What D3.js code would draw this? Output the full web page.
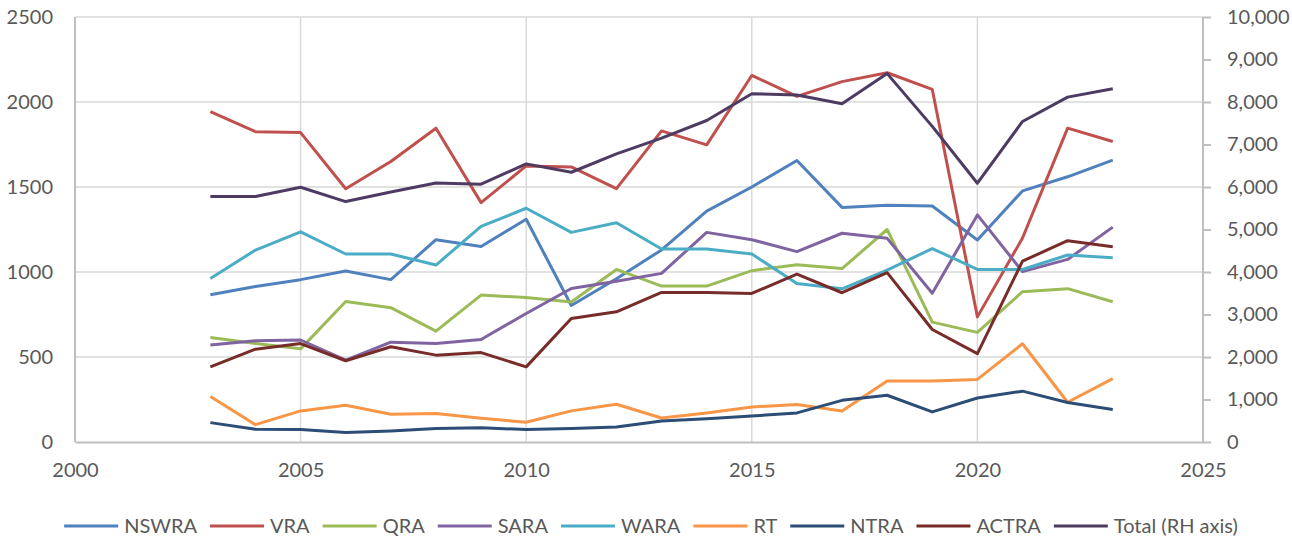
<!DOCTYPE html>
<html>
<head>
<meta charset="utf-8">
<script src="https://cdn.jsdelivr.net/npm/d3@7"></script>
<style>
  body { margin: 0; background: #fff; }
  svg { display: block; }
  text { font-family: Lato, "Liberation Sans", sans-serif; fill: #595959; }
</style>
</head>
<body>
<svg width="1292" height="539"></svg>
<script>
const years = d3.range(2003, 2024);

const nswra = [866, 915, 955, 1006, 955, 1190, 1150, 1310, 803, 960, 1130, 1358, 1500, 1656, 1380, 1392, 1388, 1188, 1477, 1560, 1658];
const vra   = [1944, 1825, 1820, 1490, 1650, 1846, 1408, 1624, 1618, 1490, 1830, 1748, 2156, 2033, 2120, 2172, 2074, 736, 1200, 1846, 1768];
const qra   = [615, 580, 548, 826, 790, 652, 864, 850, 823, 1015, 917, 917, 1008, 1042, 1020, 1250, 705, 645, 884, 902, 825];
const sara  = [570, 595, 600, 481, 587, 580, 603, 756, 903, 945, 992, 1233, 1190, 1120, 1228, 1198, 875, 1336, 1002, 1074, 1264];
const wara  = [962, 1129, 1236, 1106, 1106, 1041, 1268, 1375, 1233, 1290, 1135, 1135, 1106, 933, 901, 1011, 1138, 1015, 1015, 1100, 1084];
const rt    = [268, 102, 183, 216, 163, 167, 140, 116, 183, 222, 141, 171, 206, 220, 183, 359, 359, 368, 578, 234, 373];
const ntra  = [114, 75, 73, 56, 65, 79, 84, 73, 79, 88, 124, 137, 153, 171, 245, 275, 177, 259, 299, 232, 191];
const actra = [442, 546, 579, 478, 560, 511, 526, 442, 727, 766, 880, 880, 874, 988, 878, 996, 662, 520, 1064, 1184, 1149];
const total = [5775, 5775, 5994, 5657, 5884, 6096, 6065, 6544, 6347, 6779, 7149, 7565, 8194, 8163, 7959, 8668, 7427, 6089, 7542, 8115, 8311];

const seriesNames = ["NSWRA", "VRA", "QRA", "SARA", "WARA", "RT", "NTRA", "ACTRA", "Total (RH axis)"];
const seriesValues = [nswra, vra, qra, sara, wara, rt, ntra, actra, total];
const colors = ["#4F81BD", "#C0504D", "#9BBB59", "#8064A2", "#4BACC6", "#F79646", "#2C4D75", "#772C2A", "#4D3B62"];

const leftTicks = [0, 500, 1000, 1500, 2000, 2500];
const rightTicks = [0, 1000, 2000, 3000, 4000, 5000, 6000, 7000, 8000, 9000, 10000];
const xTicks = [2000, 2005, 2010, 2015, 2020, 2025];

const svg = d3.select("svg");
const plotL = 75, plotR = 1203, plotT = 17, plotB = 442;

const x = d3.scaleLinear().domain([2000, 2025]).range([plotL, plotR]);
const yL = d3.scaleLinear().domain([0, 2500]).range([plotB, plotT]);
const yR = d3.scaleLinear().domain([0, 10000]).range([plotB, plotT]);

// gridlines
svg.append("g").selectAll("line").data(leftTicks.slice(1)).join("line")
  .attr("x1", plotL).attr("x2", plotR)
  .attr("y1", d => yL(d)).attr("y2", d => yL(d))
  .attr("stroke", "#d9d9d9").attr("stroke-width", 1.5);
svg.append("g").selectAll("line").data(xTicks.slice(1, -1)).join("line")
  .attr("x1", d => x(d)).attr("x2", d => x(d))
  .attr("y1", plotT).attr("y2", plotB)
  .attr("stroke", "#d9d9d9").attr("stroke-width", 1.5);

// axes
const axL = svg.append("g").attr("transform", `translate(${plotL},0)`)
  .call(d3.axisLeft(yL).tickValues(leftTicks).tickSize(0).tickPadding(22).tickFormat(d3.format("d")));
const axR = svg.append("g").attr("transform", `translate(${plotR},0)`)
  .call(d3.axisRight(yR).tickValues(rightTicks).tickSize(8).tickPadding(16).tickFormat(d3.format(",")));
const axB = svg.append("g").attr("transform", `translate(0,${plotB})`)
  .call(d3.axisBottom(x).tickValues(xTicks).tickSize(0).tickPadding(21).tickFormat(d3.format("d")));

[axL, axR, axB].forEach(a => {
  a.select(".domain").attr("stroke", "#bfbfbf").attr("stroke-width", 2);
  a.selectAll(".tick line").attr("stroke", "#bfbfbf").attr("stroke-width", 2);
  a.selectAll(".tick text").style("font-size", "20px").attr("fill", "#595959");
});
axL.select(".domain").attr("d", `M0,${plotB}V${plotT}`);
axR.select(".domain").attr("d", `M0,${plotB}V${plotT}`);

// lines
const lineL = d3.line().x((d, i) => x(years[i])).y(d => yL(d));
const lineR = d3.line().x((d, i) => x(years[i])).y(d => yR(d));

seriesValues.forEach((vals, k) => {
  svg.append("path").datum(vals)
    .attr("d", k === 8 ? lineR : lineL)
    .attr("fill", "none")
    .attr("stroke", colors[k])
    .attr("stroke-width", 3)
    .attr("stroke-linejoin", "round");
});

// legend
const legend = svg.append("g");
const items = legend.selectAll("g").data(seriesNames).join("g");
items.append("line").attr("x1", 0).attr("x2", 54).attr("y1", 0).attr("y2", 0)
  .attr("stroke", (d, i) => colors[i]).attr("stroke-width", 3);
items.append("text").attr("x", 60).attr("dy", "0.35em")
  .style("font-size", "20px").text(d => d);

let pos = 0;
items.each(function () {
  const w = d3.select(this).select("text").node().getComputedTextLength();
  d3.select(this).attr("transform", `translate(${pos},0)`);
  pos += 60 + w + 13;
});
pos -= 13;
legend.attr("transform", `translate(${651 - pos / 2},526)`);
</script>
</body>
</html>
